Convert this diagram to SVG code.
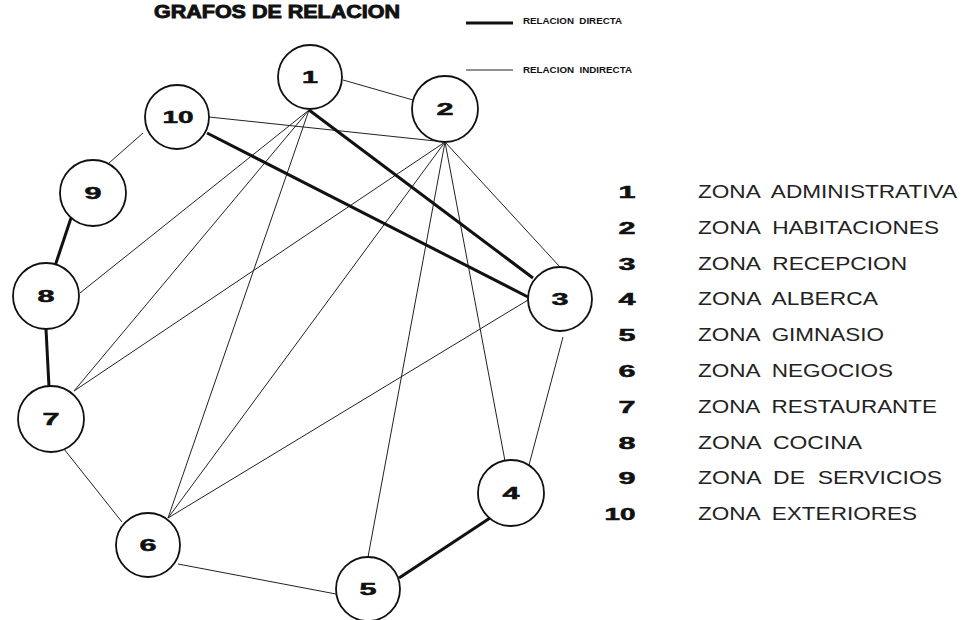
<svg xmlns="http://www.w3.org/2000/svg" width="969" height="620" viewBox="0 0 969 620">
<style>
.thin{stroke:#222;stroke-width:1;fill:none}
.thick{stroke:#111;stroke-width:3;fill:none}
.node circle{fill:#fff;stroke:#111;stroke-width:1.8}
.num{font-family:"Liberation Sans",Arial,sans-serif;font-weight:bold;font-size:16px;fill:#111;stroke:#111;stroke-width:0.5;text-anchor:middle}
.title{font-family:"Liberation Sans",Arial,sans-serif;font-weight:bold;font-size:18px;fill:#111;stroke:#111;stroke-width:0.9}
.leg{font-family:"Liberation Sans",Arial,sans-serif;font-weight:bold;font-size:8.5px;fill:#111;white-space:pre}
.zone{font-family:"Liberation Sans",Arial,sans-serif;font-size:18px;fill:#222;white-space:pre}
</style>
<rect width="969" height="620" fill="#fff"/>
<text class="title" x="154" y="18" textLength="246" lengthAdjust="spacingAndGlyphs">GRAFOS DE RELACION</text>
<g id="legend">
<line class="thick" x1="466" y1="23" x2="513" y2="23" stroke-width="2.5"/>
<text class="leg" x="523" y="24" textLength="99" lengthAdjust="spacingAndGlyphs" xml:space="preserve">RELACION  DIRECTA</text>
<line class="thin" x1="466" y1="70" x2="513" y2="70"/>
<text class="leg" x="523" y="73" textLength="109" lengthAdjust="spacingAndGlyphs" xml:space="preserve">RELACION  INDIRECTA</text>
</g>
<g id="connectors">
<line class="thin" x1="343" y1="80" x2="413" y2="100"/>
<line class="thin" x1="209" y1="117" x2="445" y2="142"/>
<line class="thin" x1="143" y1="133" x2="109" y2="163"/>
<line class="thin" x1="309" y1="110" x2="80" y2="293"/>
<line class="thin" x1="309" y1="110" x2="74" y2="391"/>
<line class="thin" x1="309" y1="110" x2="168" y2="518"/>
<line class="thin" x1="445" y1="142" x2="74" y2="391"/>
<line class="thin" x1="445" y1="142" x2="168" y2="518"/>
<line class="thin" x1="445" y1="142" x2="368" y2="557"/>
<line class="thin" x1="445" y1="142" x2="505" y2="461"/>
<line class="thin" x1="445" y1="142" x2="560" y2="267"/>
<line class="thin" x1="528" y1="300" x2="168" y2="518"/>
<line class="thin" x1="563" y1="337" x2="529" y2="465"/>
<line class="thin" x1="64" y1="449" x2="122" y2="522"/>
<line class="thin" x1="178" y1="564" x2="336" y2="594"/>
<line class="thick" x1="309" y1="110" x2="533" y2="278"/>
<line class="thick" x1="207" y1="133" x2="528" y2="297"/>
<line class="thick" x1="71" y1="218" x2="55" y2="266"/>
<line class="thick" x1="46" y1="329" x2="49" y2="387"/>
<line class="thick" x1="490" y1="518" x2="399" y2="578"/>
</g>
<g id="n1" class="node"><circle cx="310" cy="77" r="32"/><text class="num" x="310" y="83" textLength="16" lengthAdjust="spacingAndGlyphs">1</text></g>
<g id="n2" class="node"><circle cx="445" cy="109" r="33"/><text class="num" x="445" y="115" textLength="17" lengthAdjust="spacingAndGlyphs">2</text></g>
<g id="n3" class="node"><circle cx="560" cy="299" r="32"/><text class="num" x="560" y="305" textLength="17" lengthAdjust="spacingAndGlyphs">3</text></g>
<g id="n4" class="node"><circle cx="511" cy="493" r="33"/><text class="num" x="511" y="499" textLength="17" lengthAdjust="spacingAndGlyphs">4</text></g>
<g id="n5" class="node"><circle cx="368" cy="589" r="32"/><text class="num" x="368" y="595" textLength="17" lengthAdjust="spacingAndGlyphs">5</text></g>
<g id="n6" class="node"><circle cx="148" cy="545" r="32"/><text class="num" x="148" y="551" textLength="17" lengthAdjust="spacingAndGlyphs">6</text></g>
<g id="n7" class="node"><circle cx="51" cy="419" r="33"/><text class="num" x="51" y="425" textLength="17" lengthAdjust="spacingAndGlyphs">7</text></g>
<g id="n8" class="node"><circle cx="46" cy="296" r="33"/><text class="num" x="46" y="302" textLength="17" lengthAdjust="spacingAndGlyphs">8</text></g>
<g id="n9" class="node"><circle cx="93" cy="193" r="33"/><text class="num" x="93" y="199" textLength="17" lengthAdjust="spacingAndGlyphs">9</text></g>
<g id="n10" class="node"><circle cx="177" cy="117" r="32"/><text class="num" x="178" y="123" textLength="31" lengthAdjust="spacingAndGlyphs">10</text></g>
<g id="zones">
<text class="num" x="627" y="198" textLength="17" lengthAdjust="spacingAndGlyphs">1</text>
<text class="num" x="627" y="234" textLength="17" lengthAdjust="spacingAndGlyphs">2</text>
<text class="num" x="627" y="270" textLength="17" lengthAdjust="spacingAndGlyphs">3</text>
<text class="num" x="627" y="305" textLength="17" lengthAdjust="spacingAndGlyphs">4</text>
<text class="num" x="627" y="341" textLength="17" lengthAdjust="spacingAndGlyphs">5</text>
<text class="num" x="627" y="377" textLength="17" lengthAdjust="spacingAndGlyphs">6</text>
<text class="num" x="627" y="413" textLength="17" lengthAdjust="spacingAndGlyphs">7</text>
<text class="num" x="627" y="449" textLength="17" lengthAdjust="spacingAndGlyphs">8</text>
<text class="num" x="627" y="484" textLength="17" lengthAdjust="spacingAndGlyphs">9</text>
<text class="num" x="620" y="520" textLength="31" lengthAdjust="spacingAndGlyphs">10</text>
<text class="zone" x="698" y="198" textLength="259" lengthAdjust="spacingAndGlyphs" xml:space="preserve">ZONA  ADMINISTRATIVA</text>
<text class="zone" x="698" y="234" textLength="241" lengthAdjust="spacingAndGlyphs" xml:space="preserve">ZONA  HABITACIONES</text>
<text class="zone" x="698" y="270" textLength="209" lengthAdjust="spacingAndGlyphs" xml:space="preserve">ZONA  RECEPCION</text>
<text class="zone" x="698" y="305" textLength="180" lengthAdjust="spacingAndGlyphs" xml:space="preserve">ZONA  ALBERCA</text>
<text class="zone" x="698" y="341" textLength="186" lengthAdjust="spacingAndGlyphs" xml:space="preserve">ZONA  GIMNASIO</text>
<text class="zone" x="698" y="377" textLength="195" lengthAdjust="spacingAndGlyphs" xml:space="preserve">ZONA  NEGOCIOS</text>
<text class="zone" x="698" y="413" textLength="239" lengthAdjust="spacingAndGlyphs" xml:space="preserve">ZONA  RESTAURANTE</text>
<text class="zone" x="698" y="449" textLength="164" lengthAdjust="spacingAndGlyphs" xml:space="preserve">ZONA  COCINA</text>
<text class="zone" x="698" y="484" textLength="244" lengthAdjust="spacingAndGlyphs" xml:space="preserve">ZONA  DE  SERVICIOS</text>
<text class="zone" x="698" y="520" textLength="219" lengthAdjust="spacingAndGlyphs" xml:space="preserve">ZONA  EXTERIORES</text>
</g>
</svg>
